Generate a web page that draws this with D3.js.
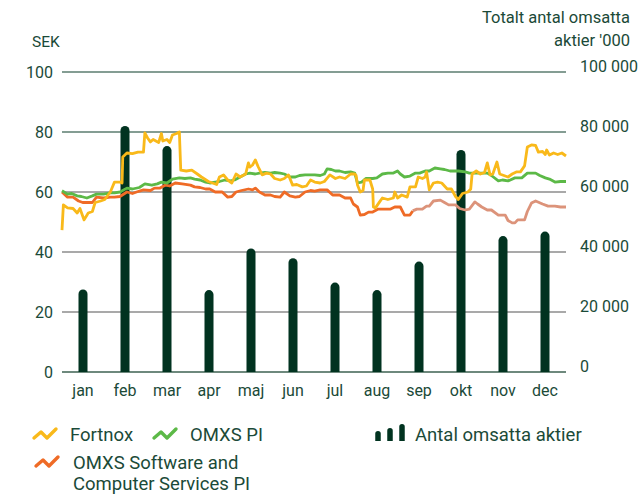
<!DOCTYPE html>
<html>
<head>
<meta charset="utf-8">
<script src="https://cdn.jsdelivr.net/npm/d3@7"></script>
<style>
  body { margin: 0; background: #fff; }
  text { font-family: Roboto, "Noto Sans", sans-serif; fill: #1b4a38; }
</style>
</head>
<body>
<div id="chart"></div>
<script>
// month labels and monthly traded shares ('000)
var months = ["jan","feb","mar","apr","maj","jun","jul","aug","sep","okt","nov","dec"];
var volume = [27500, 82000, 75300, 27300, 41200, 37900, 29800, 27300, 36800, 74000, 45300, 46800];

// tick values
var leftTicks = [0, 20, 40, 60, 80, 100];
var rightTicks = [0, 20000, 40000, 60000, 80000, 100000];

// price series: [day of year, SEK]
var fortnox = [
  [0,47.3],[1,55.7],[4,54.7],[8,54.5],[11,53],[13,54.5],[16,50.7],[19,53],[22,53.5],[24,56.5],
  [28,57],[31,57.5],[35,60],[38,63.3],[42,63.3],[43.5,63],[44,71.7],[47,73],[51,72.8],[55,73.3],
  [59,73.3],[60,79.7],[62,78],[64,76.7],[66,77.5],[70,76.5],[72,79.5],[73,77],[76,77.5],[78,76.5],
  [80,79],[83,79.5],[85,80],[86,67.3],[90,67],[94,67.3],[98,66],[101,65],[106,63.5],[109,63],
  [112,62.5],[114,65],[117,65.7],[120,64],[123,63],[126,66],[129,65],[133,66],[135,69.7],[136,68.3],
  [138,69],[140,70.7],[142,68.5],[145,65.7],[148,66.3],[151,66],[154,64.5],[158,64],[161,64.5],[164,65.7],
  [167,62.3],[170,62.5],[174,61.7],[177,62],[180,64],[183,63.3],[187,63],[190,63.5],[194,65.7],[198,64.5],
  [201,65],[205,64.5],[209,66],[212,66],[213,65.5],[214,62.3],[216,60],[218,60.5],[219,64],[223,64],
  [225,61],[225.5,55],[227,54.7],[230,56.7],[232,58],[236,57.5],[240,58],[241,60],[243,58],[246,59],
  [250,58.3],[252,61.7],[256,61.7],[258,65],[261,64.5],[263,65],[264,66.7],[266,60.7],[269,63],[272,63.3],
  [275,63],[279,61],[282,61],[285,58.5],[287,57.5],[290,59.5],[294,60],[296,61],[297,66],[300,67],
  [303,66],[306,66.5],[308,69.7],[310,65.7],[312,66],[315,70],[317,66],[320,65.5],[323,65],[326,66],
  [329,66.7],[332,66.7],[335,68.7],[337,75],[340,75.7],[343,75.5],[345,73.3],[348,73.5],[350,72.5],[351,74],
  [353,72.3],[356,73],[359,72.5],[362,73],[365,72]
];
var omxspi = [
  [0,60.4],[4,59.3],[7,59.5],[11,58.7],[14,58.5],[18,58],[22,58.7],[25,59.3],[30,59.3],[35,59.7],
  [38,59.7],[42,60],[47,61.3],[51,61],[56,61.5],[60,62.7],[65,62.3],[69,62.7],[72,63.3],[76,63],
  [80,64.3],[85,64.7],[89,64.5],[93,64.7],[96,64.3],[100,64],[104,63.3],[107,63],[111,63.3],[114,63.5],
  [118,64],[122,63.7],[125,64],[129,65],[133,66],[136,66.3],[140,66],[143,66.3],[147,66.5],[151,66.3],
  [154,66.5],[158,66.3],[161,66],[165,65],[169,65],[172,65.5],[176,65.7],[180,65.7],[183,65.7],[187,65.5],
  [190,66],[192,67.7],[195,67.5],[198,67],[201,67],[205,66.5],[209,66.7],[212,66.3],[214,63],[217,63.3],
  [220,64.5],[225,64.5],[228,64.7],[232,66],[236,66.3],[240,66.3],[243,67],[245,66],[248,65],[252,65.3],
  [256,66.3],[259,66.3],[263,67],[266,67],[270,68],[274,67.7],[277,67.5],[281,67],[287,67],[292,66.7],
  [295,66.3],[299,66.3],[303,66.3],[308,66.3],[311,65.5],[316,63.7],[319,64],[323,63.7],[328,64.7],[333,64.7],
  [337,66.3],[343,66.3],[346,65.5],[350,64.7],[353,64.3],[357,63.3],[361,63.5],[365,63.5]
];
var software = [
  [0,60],[4,58.3],[8,58.3],[12,57],[15,56.5],[19,56.5],[22,56.5],[25,58.3],[30,58],[35,58.3],
  [38,58.3],[42,58.5],[47,60],[51,59.5],[54,60],[59,60.7],[64,60.5],[67,61.3],[71,61.3],[75,62.3],
  [78,62],[82,63],[87,62.7],[93,62.3],[96,61.7],[100,61.5],[104,61],[107,61],[111,60],[116,60],
  [120,58.3],[123,58.5],[126,60],[130,60.5],[135,61],[138,60.7],[140,61.3],[143,60],[147,59],[151,59],
  [154,58.5],[158,58.3],[161,60],[165,58.7],[169,58.3],[172,58.5],[176,60],[180,60.5],[183,60.3],[187,60.7],
  [192,60.7],[196,59],[201,59],[205,58],[209,58],[211,56],[214,55],[216,52.3],[219,52.5],[222,53.3],
  [225,53.3],[229,54.3],[233,54.3],[238,54.3],[241,55],[245,55],[248,52.3],[252,52.3],[254,53.7]
];
// same index, later part drawn in a lighter tone
var softwareLate = [
  [254,53.7],[257,54.3],[261,54.3],[264,55.3],[266,55.3],[269,57],[274,57.3],[277,56.5],[280,55.7],[285,55.7],
  [288,54.5],[292,54],[295,54.3],[299,56.7],[301,56],[304,55],[308,54],[311,54],[316,52.3],[321,52.3],
  [323,50.5],[326,49.7],[328,49.7],[330,50.7],[335,50.7],[337,53.5],[340,56.3],[343,57],[348,56],[352,55.3],
  [357,55.3],[361,55],[365,55]
];

var colFortnox = "#f9b91a", colOmx = "#5cb947", colSoft = "#ef6b26", colSoftLate = "#dc937a", colBar = "#013320";

var width = 638, height = 494;
var plotL = 62, plotR = 566, plotT = 72, plotB = 372;

var svg = d3.select("#chart").append("svg")
  .attr("width", width)
  .attr("height", height);

var x = d3.scaleLinear().domain([0, 365]).range([plotL, plotR]);
var xm = d3.scaleBand().domain(months).range([plotL, plotR]);
var yL = d3.scaleLinear().domain([0, 100]).range([plotB, plotT]);
var yR = d3.scaleLinear().domain([0, 100000]).range([plotB, plotT]);

// gridlines
svg.append("g").selectAll("line")
  .data(leftTicks)
  .enter().append("line")
  .attr("x1", plotL).attr("x2", plotR)
  .attr("y1", function(d){ return yL(d); })
  .attr("y2", function(d){ return yL(d); })
  .attr("stroke", function(d){ return d >= 80 ? "#5b7d6f" : (d == 0 ? "#3e6252" : "#8d8d8d"); })
  .attr("stroke-width", 1.4);

// left axis labels
svg.append("g").selectAll("text")
  .data(leftTicks)
  .enter().append("text")
  .attr("x", 53)
  .attr("y", function(d){ return yL(d); })
  .attr("dy", "0.36em")
  .attr("text-anchor", "end")
  .attr("font-size", 16)
  .text(function(d){ return d; });

// right axis labels
var fmt = function(d){ return d3.format(",")(d).replace(/,/g, " "); };
svg.append("g").selectAll("text")
  .data(rightTicks)
  .enter().append("text")
  .attr("x", 580)
  .attr("y", function(d){ return yR(d) - 6; })
  .attr("dy", "0.36em")
  .attr("font-size", 16)
  .text(fmt);

svg.append("text").attr("x", 32).attr("y", 47).attr("font-size", 15.5).text("SEK");
svg.append("text").attr("x", 630).attr("y", 23).attr("font-size", 16.5).attr("text-anchor", "end").text("Totalt antal omsatta");
svg.append("text").attr("x", 630).attr("y", 46).attr("font-size", 16.5).attr("text-anchor", "end").text("aktier '000");

// month labels
svg.append("g").selectAll("text")
  .data(months)
  .enter().append("text")
  .attr("x", function(d){ return xm(d) + xm.bandwidth() / 2; })
  .attr("y", 396)
  .attr("text-anchor", "middle")
  .attr("font-size", 16)
  .text(function(d){ return d; });

// bars with rounded tops
var bw = 9;
function barPath(cx, yTop, yBase, w){
  var r = w / 2, x0 = cx - r, x1 = cx + r;
  return "M" + x0 + "," + yBase + "L" + x0 + "," + (yTop + r) +
    "A" + r + "," + r + " 0 0 1 " + x1 + "," + (yTop + r) +
    "L" + x1 + "," + yBase + "Z";
}
svg.append("g").selectAll("path")
  .data(volume)
  .enter().append("path")
  .attr("d", function(d, i){ return barPath(xm(months[i]) + xm.bandwidth() / 2, yR(d), yR(0), bw); })
  .attr("fill", colBar);

// lines
var line = d3.line()
  .x(function(d){ return x(d[0]); })
  .y(function(d){ return yL(d[1]); });

function drawLine(data, col){
  svg.append("path")
    .datum(data)
    .attr("d", line)
    .attr("fill", "none")
    .attr("stroke", col)
    .attr("stroke-width", 2.8)
    .attr("stroke-linejoin", "round");
}
drawLine(software, colSoft);
drawLine(softwareLate, colSoftLate);
drawLine(omxspi, colOmx);
drawLine(fortnox, colFortnox);

// legend
var wave = [[0,9],[7,3],[13,9],[22,0]];
var waveLine = d3.line().x(function(d){ return d[0]; }).y(function(d){ return d[1]; });
function legendLine(lx, ly, col, label, tx){
  svg.append("path")
    .attr("d", waveLine(wave))
    .attr("transform", "translate(" + lx + "," + ly + ")")
    .attr("fill", "none")
    .attr("stroke", col)
    .attr("stroke-width", 3.4)
    .attr("stroke-linecap", "round")
    .attr("stroke-linejoin", "round");
  if (label) svg.append("text").attr("x", tx).attr("y", ly + 12).attr("font-size", 18.5).text(label);
}
legendLine(34, 429, colFortnox, "Fortnox", 70);
legendLine(154, 429, colOmx, "OMXS PI", 190);
legendLine(36, 457, colSoft, "OMXS Software and", 73);
svg.append("text").attr("x", 73).attr("y", 490).attr("font-size", 18.5).text("Computer Services PI");

var legendBars = [10, 13, 17];
svg.append("g").selectAll("path")
  .data(legendBars)
  .enter().append("path")
  .attr("d", function(d, i){ return barPath(378 + i * 12, 441 - d, 441, 5.5); })
  .attr("fill", colBar);
svg.append("text").attr("x", 415).attr("y", 441).attr("font-size", 18.5).text("Antal omsatta aktier");
</script>
</body>
</html>
